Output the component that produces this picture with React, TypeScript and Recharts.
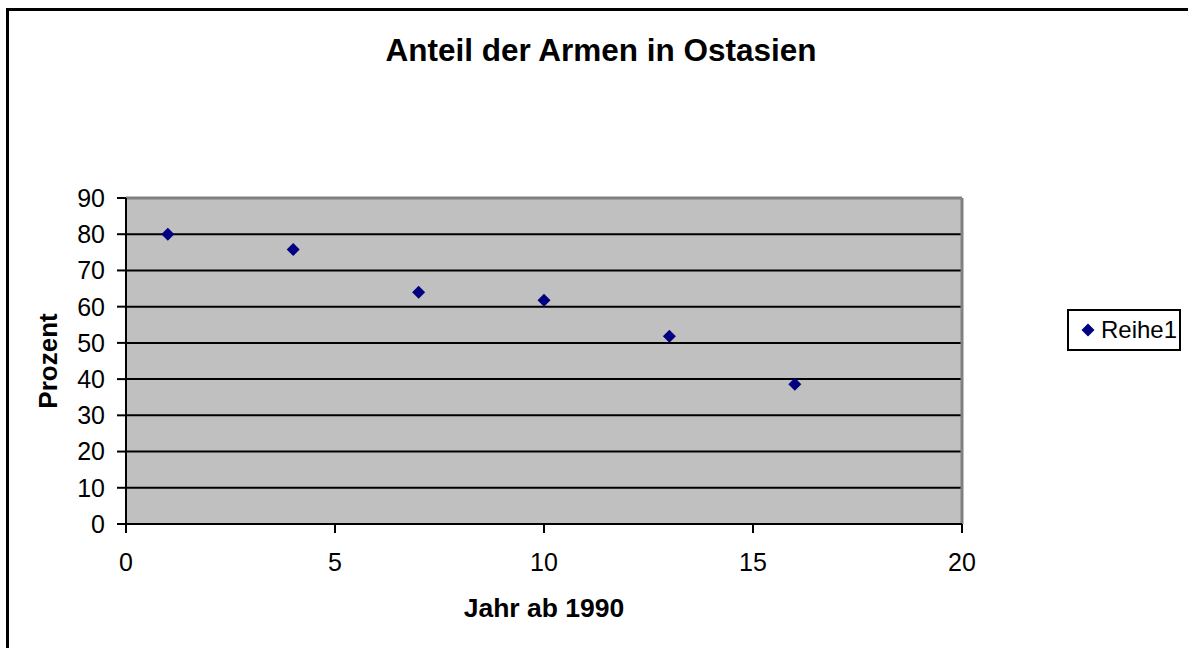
import React from 'react';
import {
  ScatterChart,
  Scatter,
  XAxis,
  YAxis,
  CartesianGrid,
  ReferenceLine,
  Legend,
} from 'recharts';

const chartTitle = 'Anteil der Armen in Ostasien';
const xAxisTitle = 'Jahr ab 1990';
const yAxisTitle = 'Prozent';
const seriesName = 'Reihe1';

const years = [1, 4, 7, 10, 13, 16];
const shares = [80, 75.8, 64, 61.8, 51.8, 38.6];

const xTicks = [0, 5, 10, 15, 20];
const yTicks = [0, 10, 20, 30, 40, 50, 60, 70, 80, 90];

const data = years.map((x, i) => ({ x, y: shares[i] }));

const FONT = '"Liberation Sans", Arial, Helvetica, sans-serif';
const MARKER = '#000080';

const Diamond = (props: any) => {
  const { cx, cy } = props;
  if (cx == null || cy == null) return null;
  const r = 6.5;
  return (
    <polygon
      points={`${cx},${cy - r} ${cx + r},${cy} ${cx},${cy + r} ${cx - r},${cy}`}
      fill={MARKER}
    />
  );
};

const LegendBox = (props: any) => {
  const items = props.payload || [];
  return (
    <div
      style={{
        boxSizing: 'border-box',
        width: 114,
        height: 42,
        border: '2px solid #000',
        background: '#fff',
        display: 'flex',
        alignItems: 'center',
        paddingLeft: 12,
        fontFamily: FONT,
        fontSize: 24,
        color: '#000',
      }}
    >
      {items.map((it: any) => (
        <div key={it.value} style={{ display: 'flex', alignItems: 'center' }}>
          <svg width={14} height={14} style={{ marginRight: 6 }}>
            <polygon points="7,0.5 13.5,7 7,13.5 0.5,7" fill={MARKER} />
          </svg>
          <span>{it.value}</span>
        </div>
      ))}
    </div>
  );
};

const YLabel = (p: any) => {
  const vb = p.viewBox || {};
  const cx = vb.x + 51;
  const cy = vb.y + vb.height / 2;
  return (
    <text
      x={cx}
      y={cy}
      transform={`rotate(-90 ${cx} ${cy})`}
      textAnchor="middle"
      fontFamily={FONT}
      fontSize={26}
      fontWeight="bold"
      fill="#000"
    >
      {yAxisTitle}
    </text>
  );
};

const XLabel = (p: any) => {
  const vb = p.viewBox || {};
  const cx = vb.x + vb.width / 2;
  const y = vb.y + 93;
  return (
    <text
      x={cx}
      y={y}
      textAnchor="middle"
      fontFamily={FONT}
      fontSize={26.5}
      fontWeight="bold"
      fill="#000"
    >
      {xAxisTitle}
    </text>
  );
};

export default function App() {
  return (
    <div
      style={{
        position: 'fixed',
        left: 0,
        top: 0,
        width: 1188,
        height: 648,
        overflow: 'hidden',
        background: '#fff',
      }}
    >
      <div
        style={{
          position: 'absolute',
          left: 6,
          top: 8,
          width: 1300,
          height: 800,
          borderTop: '3px solid #000',
          borderLeft: '3px solid #000',
          boxSizing: 'border-box',
        }}
      />
      <div
        style={{
          position: 'absolute',
          left: 0,
          top: 30,
          width: 1202,
          height: 40,
          lineHeight: '40px',
          textAlign: 'center',
          fontFamily: FONT,
          fontSize: 31.5,
          fontWeight: 'bold',
          color: '#000',
        }}
      >
        {chartTitle}
      </div>
      <div style={{ position: 'absolute', left: 0, top: 0 }}>
        <ScatterChart
          width={1188}
          height={648}
          margin={{ top: 198, right: 112, bottom: 26, left: 6 }}
        >
          <CartesianGrid
            vertical={false}
            stroke="#000"
            strokeWidth={2}
            fill="#c0c0c0"
            fillOpacity={1}
          />
          <XAxis
            type="number"
            dataKey="x"
            domain={[0, 20]}
            ticks={xTicks}
            interval={0}
            height={98}
            tickSize={9}
            tickMargin={20}
            axisLine={{ stroke: '#000', strokeWidth: 2 }}
            tickLine={{ stroke: '#000', strokeWidth: 2 }}
            tick={{ fill: '#000', fontSize: 25, fontFamily: FONT }}
            label={{ content: XLabel }}
          />
          <YAxis
            type="number"
            dataKey="y"
            domain={[0, 90]}
            ticks={yTicks}
            interval={0}
            width={120}
            tickSize={9}
            tickMargin={12}
            axisLine={{ stroke: '#000', strokeWidth: 2 }}
            tickLine={{ stroke: '#000', strokeWidth: 2 }}
            tick={{ fill: '#000', fontSize: 25, fontFamily: FONT }}
            label={{ content: YLabel }}
          />
          <ReferenceLine y={90} stroke="#808080" strokeWidth={3} />
          <ReferenceLine x={20} stroke="#808080" strokeWidth={3} />
          <Legend
            layout="horizontal"
            verticalAlign="middle"
            align="right"
            content={LegendBox}
            wrapperStyle={{ left: 1067, top: 309, width: 114, height: 42 }}
          />
          <Scatter
            name={seriesName}
            data={data}
            fill={MARKER}
            shape={Diamond}
            legendType="diamond"
            isAnimationActive={false}
          />
        </ScatterChart>
      </div>
    </div>
  );
}
